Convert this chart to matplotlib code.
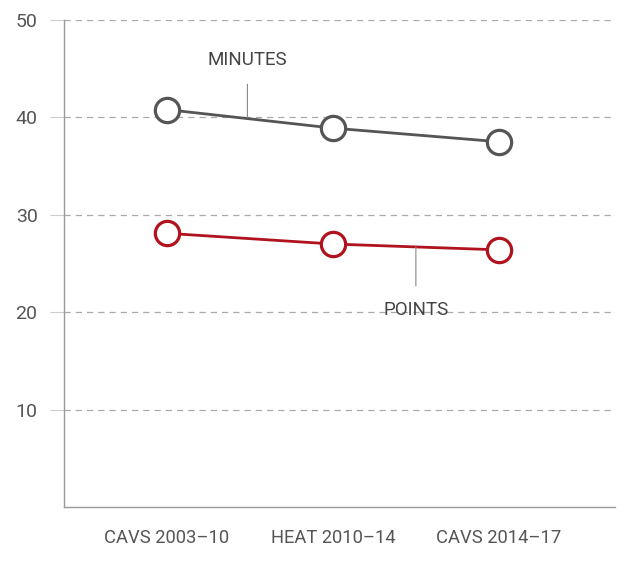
import matplotlib
matplotlib.use("Agg")
import matplotlib.pyplot as plt

categories = ["CAVS 2003–10", "HEAT 2010–14", "CAVS 2014–17"]
minutes = [40.8, 38.9, 37.5]
points = [28.1, 27.0, 26.4]
yticks = [10, 20, 30, 40, 50]

plt.rcParams['font.family'] = ['Roboto', 'DejaVu Sans']

fig = plt.figure(figsize=(6.4, 5.62), dpi=100)
ax = fig.add_axes([0.1, 0.0979, 0.861, 0.8665])

x = list(range(len(categories)))
gray = "#555555"
red = "#b0131e"

ax.plot(x, minutes, color=gray, lw=2.0, marker="o", ms=17.5, mfc="white",
        mec=gray, mew=2.3, zorder=3)
ax.plot(x, points, color=red, lw=2.0, marker="o", ms=17.5, mfc="white",
        mec=red, mew=2.3, zorder=3)

ax.set_xlim(-0.62, 2.70)
ax.set_ylim(0, 50)
ax.set_yticks(yticks)
ax.set_xticks(x)
ax.set_xticklabels(categories)

ax.grid(axis="y", color="#aaaaaa", ls=(0, (5, 4)), lw=0.9)
ax.set_axisbelow(True)
for s in ["top", "right"]:
    ax.spines[s].set_visible(False)
for s in ["left", "bottom"]:
    ax.spines[s].set_color("#999999")
    ax.spines[s].set_linewidth(1.0)

ax.tick_params(axis="y", length=10, color="#cccccc", labelsize=14,
               labelcolor="#555555", pad=9)
ax.tick_params(axis="x", length=0, labelsize=13.2, labelcolor="#555555", pad=16)

# annotations
ax.annotate("MINUTES", xy=(0.485, 40.0), xytext=(0.485, 45.9),
            ha="center", va="center", fontsize=13.5, color="#444444",
            arrowprops=dict(arrowstyle="-", color="#888888", lw=0.8,
                            shrinkA=9, shrinkB=0))
ax.annotate("POINTS", xy=(1.5, 26.7), xytext=(1.5, 20.2),
            ha="center", va="center", fontsize=13.5, color="#444444",
            arrowprops=dict(arrowstyle="-", color="#888888", lw=0.8,
                            shrinkA=9, shrinkB=0))

fig.savefig("out.png", dpi=100)
